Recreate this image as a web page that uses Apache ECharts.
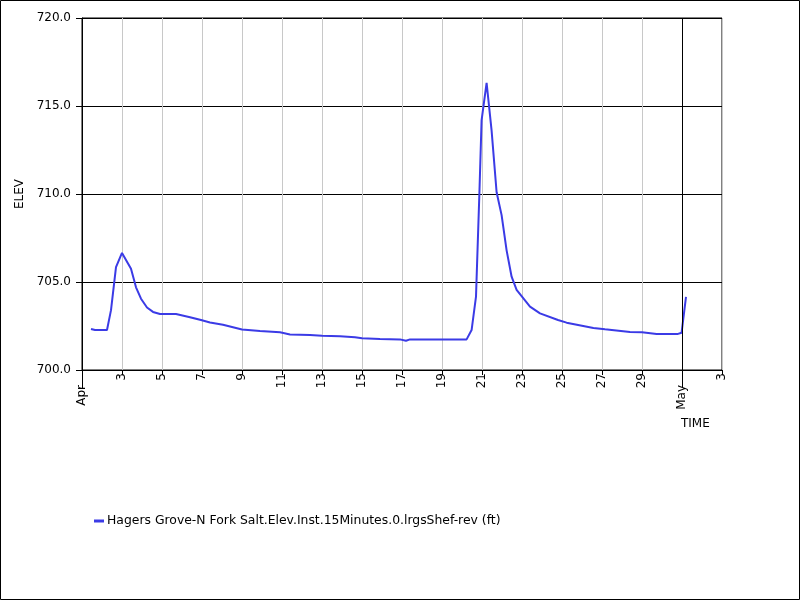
<!DOCTYPE html>
<html>
<head>
<meta charset="utf-8">
<script src="https://cdn.jsdelivr.net/npm/echarts@6/dist/echarts.min.js"></script>
<style>html,body{margin:0;padding:0;background:#fff}#c{width:800px;height:600px}</style>
</head>
<body>
<div id="c"></div>
<script>
// Days since Apr 1 00:00
const timeDays = [0.45,0.65,1.25,1.45,1.7,2.0,2.45,2.7,2.95,3.25,3.55,3.9,4.7,5.4,5.95,6.4,7.05,8.0,8.9,9.9,10.4,11.4,12.0,12.9,13.65,14.0,14.9,15.9,16.2,16.4,19.23,19.48,19.7,19.87,19.98,20.23,20.48,20.73,20.98,21.23,21.48,21.73,22.4,22.9,23.8,24.23,25.57,26.15,27.4,28.0,28.73,29.8,29.98,30.2];
const elevValues = [702.33,702.27,702.27,703.4,705.85,706.65,705.75,704.7,704.05,703.55,703.3,703.18,703.18,703.0,702.84,702.7,702.57,702.3,702.22,702.14,702.02,701.99,701.95,701.92,701.86,701.8,701.76,701.74,701.66,701.74,701.74,702.27,704.17,710.06,714.2,716.32,713.6,710.1,708.8,706.8,705.3,704.55,703.6,703.22,702.84,702.69,702.39,702.31,702.16,702.14,702.05,702.05,702.12,704.15];
const monthTicks = [0, 30];
const monthLabels = ['Apr', 'May'];
const dayTickLabels = {2:'3',4:'5',6:'7',8:'9',10:'11',12:'13',14:'15',16:'17',18:'19',20:'21',22:'23',24:'25',26:'27',28:'29',32:'3'};
const seriesName = 'Hagers Grove-N Fork Salt.Elev.Inst.15Minutes.0.lrgsShef-rev (ft)';

const FONT = 'DejaVu Sans';
const LINE_COLOR = '#3b3be6';
const chart = echarts.init(document.getElementById('c'), null, {renderer: 'canvas'});
chart.setOption({
  animation: false,
  backgroundColor: '#fff',
  textStyle: {fontFamily: FONT},
  title: {
    text: 'TIME', left: 681, top: 418, padding: 0,
    textStyle: {fontFamily: FONT, fontSize: 12, fontWeight: 'normal', color: '#000'}
  },
  graphic: [{
    type: 'rect', silent: true, z: 100,
    shape: {x: 0.5, y: 0.5, width: 799, height: 599},
    style: {fill: 'none', stroke: '#000', lineWidth: 1}
  }],
  legend: {
    left: 94, top: 515, icon: 'rect', itemWidth: 10, itemHeight: 3, padding: 0,
    textStyle: {fontFamily: FONT, fontSize: 12.4, color: '#000', padding: [0,0,0,-2]},
    data: [seriesName]
  },
  grid: {left: 82, right: 78, top: 18, bottom: 230, show: true, borderColor: '#000', borderWidth: 1, containLabel: false},
  xAxis: [{
    type: 'value', min: 0, max: 32, interval: 2,
    axisLine: {show: true, lineStyle: {color: '#000'}},
    axisTick: {show: true, length: 5, lineStyle: {color: '#000'}},
    axisLabel: {
      rotate: 90, margin: 3, color: '#000', fontFamily: FONT, fontSize: 12,
      showMinLabel: true, showMaxLabel: true,
      formatter: v => dayTickLabels[v] || ''
    },
    splitLine: {show: true, lineStyle: {color: '#c8c8c8', width: 1}}
  }, {
    type: 'value', min: 0, max: 32, position: 'bottom',
    axisLine: {show: false},
    axisTick: {show: true, length: 18, customValues: monthTicks, lineStyle: {color: '#000'}},
    axisLabel: {
      rotate: 90, margin: 15, color: '#000', fontFamily: FONT, fontSize: 12,
      customValues: monthTicks,
      formatter: v => monthLabels[monthTicks.indexOf(v)] || ''
    },
    splitLine: {show: false}
  }],
  yAxis: {
    type: 'value', min: 700, max: 720, interval: 5,
    name: 'ELEV', nameLocation: 'middle', nameGap: 54, nameRotate: 90,
    nameTextStyle: {fontFamily: FONT, fontSize: 12, color: '#000'},
    axisLine: {show: true, lineStyle: {color: '#000'}},
    axisTick: {show: true, length: 6, lineStyle: {color: '#000'}},
    axisLabel: {margin: 11, color: '#000', fontFamily: FONT, fontSize: 12, formatter: v => v.toFixed(1)},
    splitLine: {show: true, lineStyle: {color: '#000', width: 1}}
  },
  series: [{
    name: seriesName, type: 'line', xAxisIndex: 0,
    showSymbol: false, symbol: 'none',
    lineStyle: {color: LINE_COLOR, width: 2},
    itemStyle: {color: LINE_COLOR},
    data: timeDays.map((d, i) => [d, elevValues[i]]),
    markLine: {
      silent: true, symbol: 'none', label: {show: false}, animation: false,
      lineStyle: {color: '#000', type: 'solid', width: 1},
      data: [{xAxis: monthTicks[1]}]
    }
  }]
});
</script>
</body>
</html>
